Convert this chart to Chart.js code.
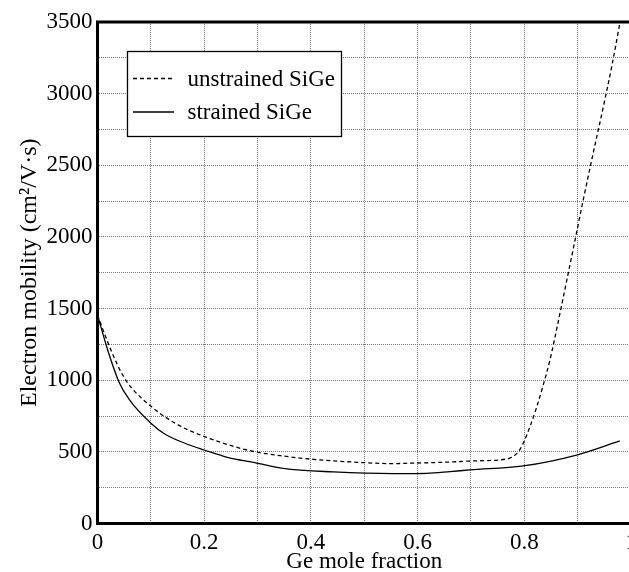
<!DOCTYPE html>
<html>
<head>
<meta charset="utf-8">
<script src="https://cdn.jsdelivr.net/npm/chart.js@4.4.0/dist/chart.umd.min.js"></script>
<style>
  html, body { margin: 0; padding: 0; background: #fff; overflow: hidden; }
  #wrap { width: 629px; height: 572px; overflow: hidden; position: relative; }
  canvas { display: block; }
</style>
</head>
<body>
<div id="wrap"><canvas id="c" width="660" height="572"></canvas></div>
<script>
// ---- data ----
const unstrainedX = [0, 0.02, 0.039, 0.057, 0.101, 0.151, 0.201, 0.257, 0.295, 0.348, 0.398, 0.498, 0.554, 0.598, 0.661, 0.698, 0.767, 0.776, 0.789, 0.798, 0.811, 0.823, 0.835, 0.848, 0.867, 0.882, 0.898, 0.91, 0.93, 0.95, 0.965, 0.979];
const unstrainedY = [1455, 1258, 1095, 979, 816, 688, 606, 536, 501, 471, 450, 425, 418, 422, 429, 436, 450, 462, 501, 560, 680, 810, 960, 1140, 1470, 1740, 2030, 2250, 2600, 2940, 3210, 3490];
const strainedX = [0, 0.02, 0.04, 0.06, 0.1, 0.126, 0.164, 0.2, 0.245, 0.295, 0.348, 0.442, 0.554, 0.617, 0.661, 0.698, 0.798, 0.898, 0.979];
const strainedY = [1455, 1200, 990, 862, 700, 625, 560, 513, 460, 425, 385, 360, 348, 350, 362, 374, 402, 478, 576];
const seriesLabels = ["unstrained SiGe", "strained SiGe"];
const xTitle = "Ge mole fraction";
const yTitle = "Electron mobility (cm\u00B2/V\u00B7s)";
const xMin = 0, xMax = 1, xStep = 0.1;
const yMin = 0, yMax = 3500, yStep = 250;

const FONT = "'Liberation Serif', 'Times New Roman', serif";
const toPts = (xs, ys) => xs.map((x, i) => ({ x: x, y: ys[i] }));

const frameAndLegend = {
  id: 'frameAndLegend',
  afterDraw(chart) {
    const ctx = chart.ctx;
    const a = chart.chartArea;
    ctx.save();
    ctx.setLineDash([]);
    ctx.strokeStyle = '#000';
    ctx.lineWidth = 3;
    ctx.beginPath();
    ctx.moveTo(a.left - 1.5, a.top);
    ctx.lineTo(a.right + 1.5, a.top);
    ctx.stroke();
    ctx.beginPath();
    ctx.moveTo(a.right, a.top);
    ctx.lineTo(a.right, a.bottom);
    ctx.stroke();
    // legend box
    const bx = 127.5, by = 51.5, bw = 214, bh = 85;
    ctx.fillStyle = '#fff';
    ctx.fillRect(bx, by, bw, bh);
    ctx.lineWidth = 1.3;
    ctx.strokeRect(bx, by, bw, bh);
    ctx.font = "23px " + FONT;
    ctx.textBaseline = 'middle';
    ctx.fillStyle = '#000';
    const rows = [78.5, 112];
    chart.data.datasets.forEach((ds, i) => {
      ctx.beginPath();
      ctx.lineWidth = ds.borderWidth;
      ctx.setLineDash(ds.borderDash || []);
      ctx.moveTo(133, rows[i]);
      ctx.lineTo(174, rows[i]);
      ctx.stroke();
      ctx.setLineDash([]);
      ctx.fillText(ds.label, 187.5, rows[i] + 1);
    });
    ctx.restore();
  }
};

new Chart(document.getElementById('c'), {
  type: 'line',
  data: {
    datasets: [
      {
        label: seriesLabels[0],
        data: toPts(unstrainedX, unstrainedY),
        borderColor: '#000',
        borderWidth: 1.3,
        borderDash: [4, 3],
        pointRadius: 0,
        fill: false,
        cubicInterpolationMode: 'monotone'
      },
      {
        label: seriesLabels[1],
        data: toPts(strainedX, strainedY),
        borderColor: '#000',
        borderWidth: 1.3,
        pointRadius: 0,
        fill: false,
        cubicInterpolationMode: 'monotone'
      }
    ]
  },
  options: {
    responsive: false,
    animation: false,
    events: [],
    layout: { padding: { left: 0, right: 29, top: 22, bottom: 0 } },
    plugins: { legend: { display: false }, tooltip: { enabled: false } },
    scales: {
      x: {
        type: 'linear',
        min: xMin, max: xMax,
        afterFit(s) { s.height = 48.5; },
        ticks: {
          stepSize: xStep,
          padding: 6,
          maxRotation: 0,
          autoSkip: false,
          color: '#000',
          font: { family: FONT, size: 23 },
          callback: (v) => (Math.round(v * 10) % 2 === 0 ? String(Math.round(v * 10) / 10) : '')
        },
        grid: { color: '#7a7a7a', lineWidth: 1, drawTicks: false, tickLength: 0 },
        border: { color: '#000', width: 3, dash: [1, 1] },
        title: { display: true, text: xTitle, color: '#000', font: { family: FONT, size: 23 }, padding: { top: 0, bottom: -4 } }
      },
      y: {
        type: 'linear',
        min: yMin, max: yMax,
        afterFit(s) { s.width = 97.5; },
        ticks: {
          stepSize: yStep,
          padding: 5,
          autoSkip: false,
          color: '#000',
          font: { family: FONT, size: 23 },
          callback: (v) => (v % 500 === 0 ? String(v) : '')
        },
        grid: { color: '#7a7a7a', lineWidth: 1, drawTicks: false, tickLength: 0 },
        border: { color: '#000', width: 3, dash: [1, 1] },
        title: { display: true, text: yTitle, color: '#000', font: { family: FONT, size: 24 }, padding: { top: 15, bottom: 0 } }
      }
    }
  },
  plugins: [frameAndLegend]
});
</script>
</body>
</html>
